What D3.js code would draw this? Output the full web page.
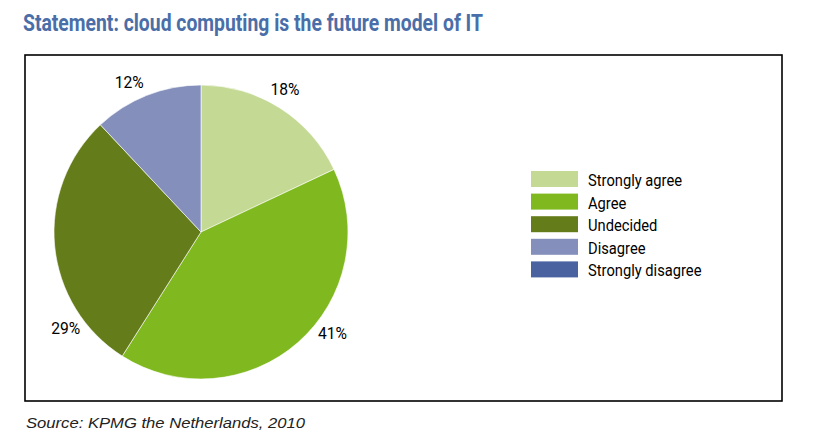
<!DOCTYPE html>
<html>
<head>
<meta charset="utf-8">
<script src="https://cdn.jsdelivr.net/npm/d3@7"></script>
<style>
  html, body { margin: 0; padding: 0; background: #fff; }
  svg { display: block; }
</style>
</head>
<body>
<svg id="chart" width="825" height="445"></svg>
<script>
// ---- data ----
const categories = ["Strongly agree", "Agree", "Undecided", "Disagree", "Strongly disagree"];
const values = [18, 41, 29, 12, 0];
const colors = ["#c4da94", "#80b820", "#657c1a", "#8490bb", "#4a62a0"];
const titleText = "Statement: cloud computing is the future model of IT";
const sourceText = "Source: KPMG the Netherlands, 2010";

// ---- layout ----
const box = { x: 25, y: 55, w: 757, h: 346 };
const cx = 201, cy = 232, R = 147;
const labelRadius = 166;
// Excel-style label placement shifts (degrees) relative to each slice's mid-angle
const labelShift = [-2, -11, -30, -4, 0];
const font = "Roboto, 'Liberation Sans', sans-serif";

const svg = d3.select("#chart");

// condense text horizontally (the original uses a condensed face)
function condense(sel, factor) {
  sel.each(function () {
    const n = this.getComputedTextLength();
    d3.select(this).attr("textLength", n * factor).attr("lengthAdjust", "spacingAndGlyphs");
  });
}

// title
svg.append("text")
  .attr("x", 23).attr("y", 31)
  .attr("font-family", font)
  .attr("font-weight", "bold")
  .attr("font-size", 23)
  .attr("fill", "#4a6ea8")
  .attr("textLength", 460)
  .attr("lengthAdjust", "spacingAndGlyphs")
  .text(titleText);

// frame
svg.append("rect")
  .attr("x", box.x).attr("y", box.y)
  .attr("width", box.w).attr("height", box.h)
  .attr("fill", "none").attr("stroke", "#000").attr("stroke-width", 1.6);

// pie
const color = d3.scaleOrdinal().domain(categories).range(colors);
const pie = d3.pie().sort(null).value(d => d.value);
const data = categories.map((c, i) => ({ cat: c, value: values[i], shift: labelShift[i] }));
const arcs = pie(data);
const arc = d3.arc().innerRadius(0).outerRadius(R);

const g = svg.append("g").attr("transform", `translate(${cx},${cy})`);
g.selectAll("path.slice")
  .data(arcs.filter(d => d.data.value > 0))
  .join("path")
  .attr("class", "slice")
  .attr("d", arc)
  .attr("fill", d => color(d.data.cat))
  .attr("stroke", "#ffffff")
  .attr("stroke-width", 0.6);

// legend (measure condense factor from first entry)
const legY = d3.scaleBand().domain(categories).range([168, 281]).paddingInner(0);
const leg = svg.append("g");
const rows = leg.selectAll("g").data(categories).join("g")
  .attr("transform", d => `translate(531,${legY(d) + 3})`);
rows.append("rect")
  .attr("width", 47).attr("height", 16)
  .attr("fill", d => color(d));
const legText = rows.append("text")
  .attr("x", 57).attr("y", 15)
  .attr("font-family", font)
  .attr("font-size", 16)
  .attr("fill", "#000")
  .text(d => d);
const factor = 94 / legText.node().getComputedTextLength();
condense(legText, factor);

const lbls = g.selectAll("text.lbl")
  .data(arcs.filter(d => d.data.value > 0))
  .join("text")
  .attr("class", "lbl")
  .attr("transform", d => {
    const a = (d.startAngle + d.endAngle) / 2 + d.data.shift * Math.PI / 180;
    return `translate(${labelRadius * Math.sin(a)},${-labelRadius * Math.cos(a)})`;
  })
  .attr("text-anchor", "middle")
  .attr("dy", "0.36em")
  .attr("font-family", font)
  .attr("font-size", 17)
  .attr("fill", "#000")
  .text(d => d.data.value + "%");
condense(lbls, factor);

// source
svg.append("text")
  .attr("x", 26).attr("y", 428)
  .attr("font-family", "'Liberation Sans', Arial, sans-serif")
  .attr("font-style", "italic")
  .attr("font-size", 15)
  .attr("fill", "#222")
  .attr("textLength", 279)
  .attr("lengthAdjust", "spacingAndGlyphs")
  .text(sourceText);
</script>
</body>
</html>
